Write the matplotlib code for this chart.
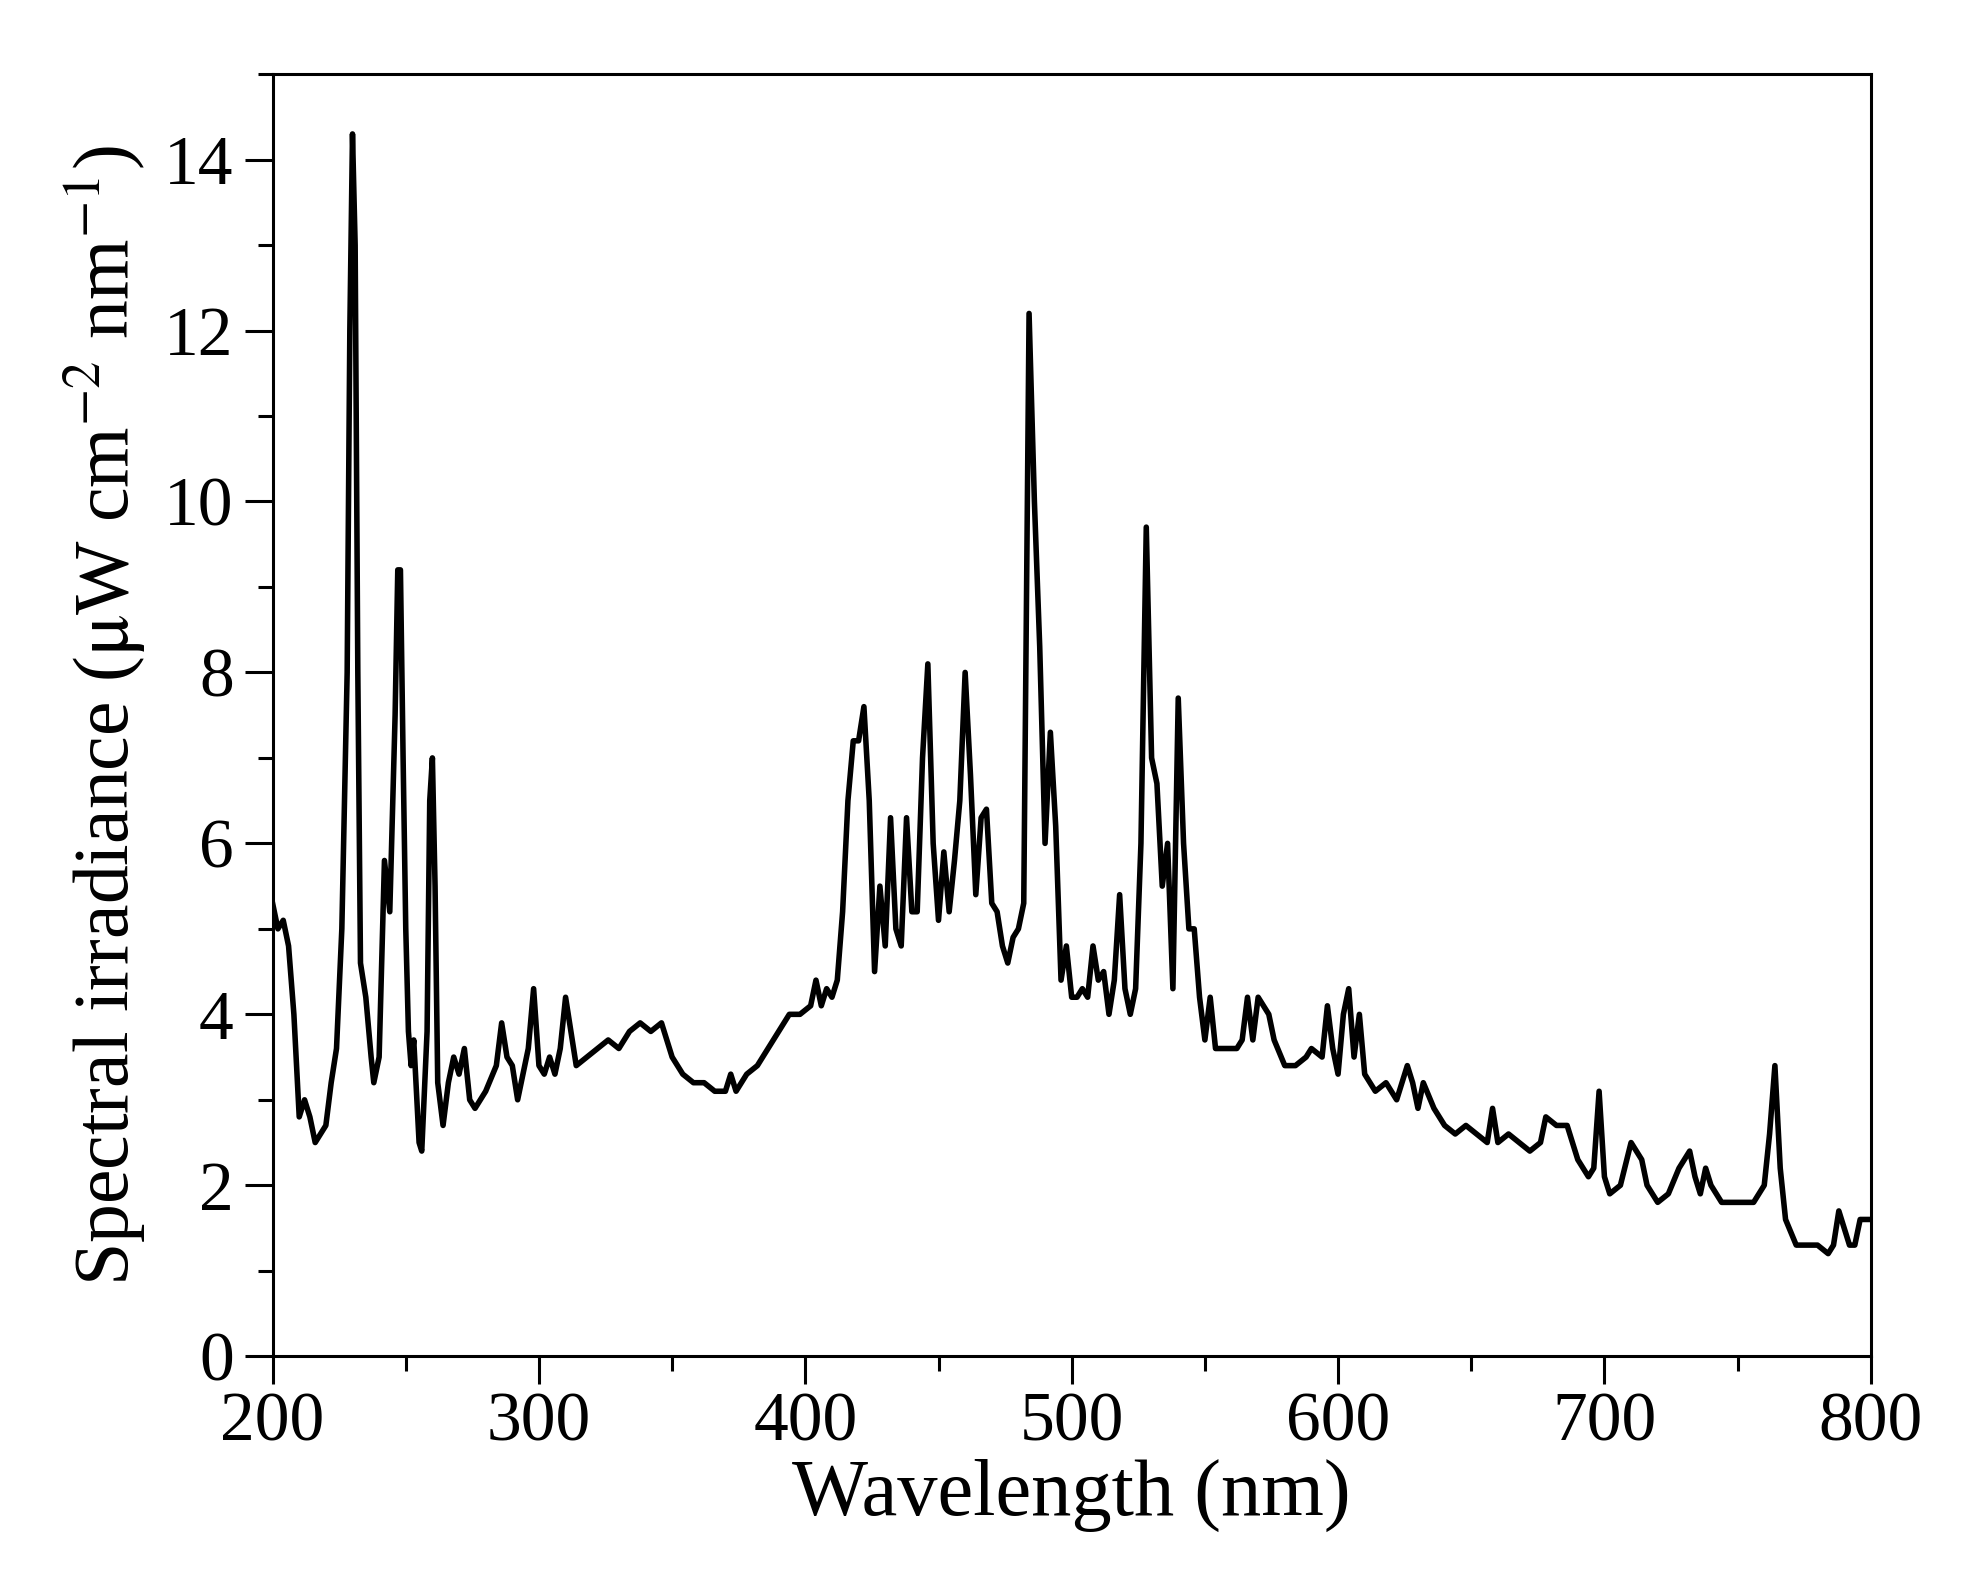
import numpy as np
import matplotlib
matplotlib.use('Agg')
import matplotlib.pyplot as plt
from matplotlib.ticker import MultipleLocator

# Spectrum (wavelength nm, irradiance)
wl = [200, 202, 204, 206, 208, 210, 212, 214, 216, 218, 220, 222, 224, 226, 228, 229, 230, 231, 232, 233,
      235, 237, 238, 240, 242, 244, 246, 247, 248, 249, 250, 251, 252, 253, 255, 256, 258, 259, 260, 261,
      262, 264, 266, 268, 270, 272, 274, 276, 280, 284, 286, 288, 290, 292, 294, 296, 298, 300, 302, 304,
      306, 308, 310, 312, 314, 318, 322, 326, 330, 334, 338, 342, 346, 350, 354, 358, 362, 366, 370, 372,
      374, 378, 382, 386, 390, 394, 398, 402, 404, 406, 408, 410, 412, 414, 416, 418, 420, 422, 424, 426,
      428, 430, 432, 434, 436, 438, 440, 442, 444, 446, 448, 450, 452, 454, 456, 458, 460, 462, 464, 466,
      468, 470, 472, 474, 476, 478, 480, 482, 484, 486, 488, 490, 492, 494, 496, 498, 500, 502, 504, 506,
      508, 510, 512, 514, 516, 518, 520, 522, 524, 526, 528, 530, 532, 534, 536, 538, 540, 542, 544, 546,
      548, 550, 552, 554, 558, 562, 564, 566, 568, 570, 572, 574, 576, 580, 584, 588, 590, 594, 596, 598,
      600, 602, 604, 606, 608, 610, 614, 618, 622, 626, 628, 630, 632, 636, 640, 644, 648, 652, 656, 658,
      660, 664, 668, 672, 676, 678, 682, 686, 690, 694, 696, 698, 700, 702, 706, 710, 714, 716, 720, 724,
      728, 732, 734, 736, 738, 740, 744, 748, 752, 756, 760, 762, 764, 766, 768, 772, 776, 780, 784, 786,
      788, 790, 792, 794, 796, 798, 800]
irr = [5.3, 5.0, 5.1, 4.8, 4.0, 2.8, 3.0, 2.8, 2.5, 2.6, 2.7, 3.2, 3.6, 5.0, 8.0, 12.0, 14.3, 13.0, 8.0, 4.6,
       4.2, 3.5, 3.2, 3.5, 5.8, 5.2, 7.5, 9.2, 9.2, 7.0, 5.0, 3.8, 3.4, 3.7, 2.5, 2.4, 3.8, 6.5, 7.0, 5.5,
       3.2, 2.7, 3.2, 3.5, 3.3, 3.6, 3.0, 2.9, 3.1, 3.4, 3.9, 3.5, 3.4, 3.0, 3.3, 3.6, 4.3, 3.4, 3.3, 3.5,
       3.3, 3.6, 4.2, 3.8, 3.4, 3.5, 3.6, 3.7, 3.6, 3.8, 3.9, 3.8, 3.9, 3.5, 3.3, 3.2, 3.2, 3.1, 3.1, 3.3,
       3.1, 3.3, 3.4, 3.6, 3.8, 4.0, 4.0, 4.1, 4.4, 4.1, 4.3, 4.2, 4.4, 5.2, 6.5, 7.2, 7.2, 7.6, 6.5, 4.5,
       5.5, 4.8, 6.3, 5.0, 4.8, 6.3, 5.2, 5.2, 7.0, 8.1, 6.0, 5.1, 5.9, 5.2, 5.8, 6.5, 8.0, 6.8, 5.4, 6.3,
       6.4, 5.3, 5.2, 4.8, 4.6, 4.9, 5.0, 5.3, 12.2, 10.0, 8.3, 6.0, 7.3, 6.2, 4.4, 4.8, 4.2, 4.2, 4.3, 4.2,
       4.8, 4.4, 4.5, 4.0, 4.4, 5.4, 4.3, 4.0, 4.3, 6.0, 9.7, 7.0, 6.7, 5.5, 6.0, 4.3, 7.7, 6.0, 5.0, 5.0,
       4.2, 3.7, 4.2, 3.6, 3.6, 3.6, 3.7, 4.2, 3.7, 4.2, 4.1, 4.0, 3.7, 3.4, 3.4, 3.5, 3.6, 3.5, 4.1, 3.6,
       3.3, 4.0, 4.3, 3.5, 4.0, 3.3, 3.1, 3.2, 3.0, 3.4, 3.2, 2.9, 3.2, 2.9, 2.7, 2.6, 2.7, 2.6, 2.5, 2.9,
       2.5, 2.6, 2.5, 2.4, 2.5, 2.8, 2.7, 2.7, 2.3, 2.1, 2.2, 3.1, 2.1, 1.9, 2.0, 2.5, 2.3, 2.0, 1.8, 1.9,
       2.2, 2.4, 2.1, 1.9, 2.2, 2.0, 1.8, 1.8, 1.8, 1.8, 2.0, 2.6, 3.4, 2.2, 1.6, 1.3, 1.3, 1.3, 1.2, 1.3,
       1.7, 1.5, 1.3, 1.3, 1.6, 1.6, 1.6]

plt.rcParams['font.family'] = ['Liberation Serif', 'DejaVu Serif']
plt.rcParams['mathtext.fontset'] = 'stix'

fig = plt.figure(figsize=(19.61, 15.77), dpi=100)
ax = fig.add_axes([0.139, 0.140, 0.815, 0.813])
ax.plot(wl, irr, color='black', lw=4.0, solid_joinstyle='round')

ax.set_xlim(200, 800)
ax.set_ylim(0, 15)
ax.xaxis.set_major_locator(MultipleLocator(100))
ax.xaxis.set_minor_locator(MultipleLocator(50))
ax.yaxis.set_major_locator(MultipleLocator(2))
ax.yaxis.set_minor_locator(MultipleLocator(1))
ax.yaxis.set_major_formatter(matplotlib.ticker.FuncFormatter(lambda v, p: '%d' % v if v <= 14 else ''))
ax.tick_params(which='both', direction='out', width=2.2, labelsize=50)
ax.tick_params(which='major', length=20)
ax.tick_params(which='minor', length=11)
ax.tick_params(axis='x', pad=6)
ax.tick_params(axis='y', pad=8)
for s in ax.spines.values():
    s.set_linewidth(2.2)

ax.set_xlabel('Wavelength (nm)', fontsize=58, labelpad=2)
ax.set_ylabel(r'Spectral irradiance ($\mathrm{\mu}$W cm$^{-2}$ nm$^{-1}$)', fontsize=56, labelpad=12)

fig.savefig('out.png', dpi=100)
